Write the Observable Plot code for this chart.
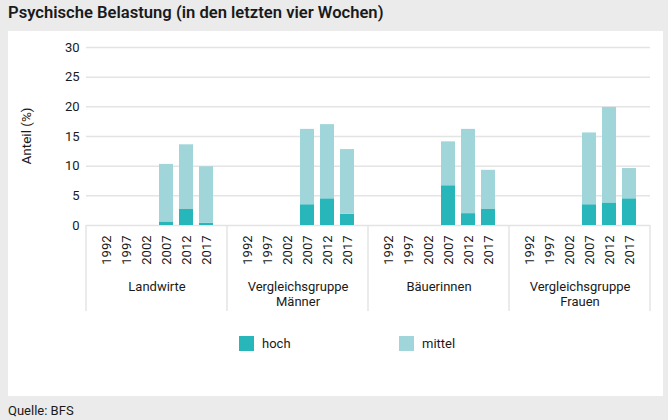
<!DOCTYPE html>
<html>
<head>
<meta charset="utf-8">
<script src="https://cdn.jsdelivr.net/npm/d3@7"></script>
<script src="https://cdn.jsdelivr.net/npm/@observablehq/plot@0.6"></script>
<style>
  html, body { margin: 0; padding: 0; }
  body { width: 668px; height: 420px; background: #ebebeb; position: relative; overflow: hidden;
         font-family: Roboto, "Open Sans", sans-serif; color: #1a1a1a; }
  #title { position: absolute; left: 8px; top: 3px; font-size: 16.6px; font-weight: 600; line-height: 19px; white-space: nowrap; }
  #panel { position: absolute; left: 8px; top: 31px; width: 655px; height: 365px; background: #fff; }
  #chart { position: absolute; left: 0; top: 0; }
  #ylabel { position: absolute; font-size: 13.5px; white-space: nowrap; transform: translate(-50%, -50%) rotate(-90deg); }
  .lg-item { position: absolute; top: 305px; height: 15px; display: flex; align-items: center; font-size: 13px; }
  .lg-sw { width: 15px; height: 15px; margin-right: 8px; }
  #caption { position: absolute; left: 8px; top: 403px; font-size: 13px; line-height: 15px; }
</style>
</head>
<body>
<div id="title">Psychische Belastung (in den letzten vier Wochen)</div>
<div id="panel"><div id="chart"></div></div>
<div id="caption">Quelle: BFS</div>
<script>
// ---- data ----
const groups = ["Landwirte", "Vergleichsgruppe Männer", "Bäuerinnen", "Vergleichsgruppe Frauen"];
const groupLabels = ["Landwirte", "Vergleichsgruppe\nMänner", "Bäuerinnen", "Vergleichsgruppe\nFrauen"];
const years = ["1992", "1997", "2002", "2007", "2012", "2017"];
const seriesNames = ["hoch", "mittel"];
const seriesColors = ["#27b6ba", "#a0d6d9"];
const yTicks = [0, 5, 10, 15, 20, 25, 30];
const yLabel = "Anteil (%)";

// values per group, per year (null = no data)
const hochLandwirte   = [null, null, null, 0.6, 2.7, 0.4];
const mittelLandwirte = [null, null, null, 9.7, 10.9, 9.5];
const hochMaenner     = [null, null, null, 3.5, 4.5, 1.9];
const mittelMaenner   = [null, null, null, 12.7, 12.5, 10.9];
const hochBaeuerinnen   = [null, null, null, 6.7, 2.0, 2.7];
const mittelBaeuerinnen = [null, null, null, 7.4, 14.2, 6.6];
const hochFrauen      = [null, null, null, 3.5, 3.8, 4.5];
const mittelFrauen    = [null, null, null, 12.1, 16.1, 5.1];

const hochByGroup = [hochLandwirte, hochMaenner, hochBaeuerinnen, hochFrauen];
const mittelByGroup = [mittelLandwirte, mittelMaenner, mittelBaeuerinnen, mittelFrauen];

const rows = [];
groups.forEach((g, gi) => {
  years.forEach((yr, yi) => {
    [[seriesNames[0], hochByGroup[gi][yi]], [seriesNames[1], mittelByGroup[gi][yi]]].forEach(([s, v]) => {
      if (v != null) rows.push({group: g, year: yr, series: s, value: v});
    });
  });
});

const chart = Plot.plot({
  width: 655,
  height: 290,
  marginLeft: 76,
  marginRight: 12,
  marginTop: 16,
  marginBottom: 96,
  style: {fontFamily: "Roboto, sans-serif", fontSize: "13px", color: "#1a1a1a", background: "transparent", overflow: "visible"},
  fx: {domain: groups, padding: 0, label: null},
  x: {domain: years, paddingInner: 0.28, paddingOuter: 0.545, label: null},
  y: {domain: [0, 30], label: null},
  color: {domain: seriesNames, range: seriesColors},
  marks: [
    Plot.gridY(yTicks, {stroke: "#e4e4e4", strokeOpacity: 1, strokeWidth: 1.5}),
    Plot.axisY(yTicks, {tickSize: 0, tickPadding: 7, label: null}),
    Plot.axisX({tickRotate: -90, tickSize: 0, tickPadding: 10, label: null}),
    Plot.axisFx({anchor: "bottom", tickSize: 0, tickPadding: 54, label: null, lineHeight: 1.2,
                 tickFormat: g => groupLabels[groups.indexOf(g)]}),
    Plot.barY(rows, {fx: "group", x: "year", y: "value", fill: "series"})
  ]
});

document.getElementById("chart").appendChild(chart);

// group separators at facet edges, derived from the fx and y scales
const fx = chart.scale("fx");
const ys = chart.scale("y");
const y0 = ys.apply(0);
const edges = groups.map(g => fx.apply(g)).concat([fx.apply(groups[groups.length - 1]) + fx.bandwidth]);
d3.select(chart).append("g")
  .selectAll("line").data(edges).join("line")
  .attr("x1", d => d).attr("x2", d => d)
  .attr("y1", y0).attr("y2", y0 + 86)
  .attr("stroke", "#e4e4e4").attr("stroke-width", 1.5);

const panel = document.getElementById("panel");

// y axis label, centred on the y range
const yl = document.createElement("div");
yl.id = "ylabel";
yl.textContent = yLabel;
yl.style.left = "18px";
yl.style.top = ((ys.apply(0) + ys.apply(30)) / 2) + "px";
panel.appendChild(yl);

// legend
const legendX = [231, 391];
seriesNames.forEach((s, i) => {
  const item = document.createElement("div");
  item.className = "lg-item";
  item.style.left = legendX[i] + "px";
  const sw = document.createElement("div");
  sw.className = "lg-sw";
  sw.style.background = seriesColors[i];
  item.appendChild(sw);
  item.appendChild(document.createTextNode(s));
  panel.appendChild(item);
});
</script>
</body>
</html>
